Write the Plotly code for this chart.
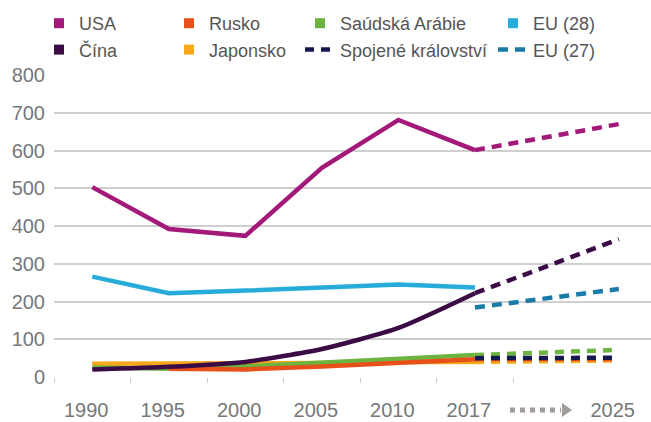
import plotly.graph_objects as go

# ---------------- data ----------------
years = ["1990", "1995", "2000", "2005", "2010", "2017"]
proj_years = ["2017", "2025"]
tick_labels = ["1990", "1995", "2000", "2005", "2010", "2017", "2025"]

usa = [503, 392, 374, 554, 681, 601]
usa_proj = [601, 670]
cina = [20, 27, 40, 74, 130, 222]
cina_proj = [222, 365]
rusko = [None, 22, 20, 28, 38, 47]
rusko_proj = [47, 48]
japonsko = [35, 36, 35, 37, 40, 40]
japonsko_proj = [40, 44]
saudska = [25, 22, 28, 37, 47, 58]
saudska_proj = [58, 72]
eu28 = [266, 222, 229, 237, 245, 237]
uk_proj = [50, 51]
eu27_proj = [184, 233]

# axis positions for categories (projection year sits closer, as in the original)
cat_pos = {"1990": 0, "1995": 1, "2000": 2, "2005": 3, "2010": 4, "2017": 5, "2025": 6.88}

colors = {
    "USA": "#A3197A",
    "Čína": "#3B0B45",
    "Rusko": "#E8501A",
    "Japonsko": "#F7A81B",
    "Saúdská Arábie": "#6DB33F",
    "EU (28)": "#27ACD9",
    "Spojené království": "#16194F",
    "EU (27)": "#1A7BA8",
}

W, H = 651, 422
L, R, T, B = 54, 0, 75, 45
PW, PH = W - L - R, H - T - B

def px2x(px):
    return (px - L) / PW

def px2y(py):
    return ((H - B) - py) / PH

fig = go.Figure()

def xs(labels):
    return [cat_pos[v] for v in labels]

LW = 4.5

def solid(name, vals, legend, shape="linear"):
    fig.add_trace(go.Scatter(x=xs(years), y=vals, mode="lines", name=name,
                             line=dict(color=colors[name], width=LW, shape=shape, smoothing=0.6),
                             showlegend=False, connectgaps=False, hoverinfo="skip"))
    # legend entry shown as a square
    fig.add_trace(go.Scatter(x=[None], y=[None], mode="markers", name=name,
                             marker=dict(symbol="square", size=10, color=colors[name]),
                             legend=legend, showlegend=True))

def dashed(name, vals, legend=None, dash="10px,7px"):
    fig.add_trace(go.Scatter(x=xs(proj_years), y=vals, mode="lines", name=name,
                             line=dict(color=colors[name], width=LW, dash=dash),
                             showlegend=legend is not None,
                             legend=legend if legend else "legend",
                             hoverinfo="skip"))

# drawing order (bottom to top)
dashed("Japonsko", japonsko_proj, dash="9px,7px")
dashed("Rusko", rusko_proj, dash="9px,7px")
dashed("Saúdská Arábie", saudska_proj, dash="9px,7px")
dashed("Spojené království", uk_proj, legend="legend3", dash="9px,7px")
solid("Japonsko", japonsko, "legend2")
solid("Saúdská Arábie", saudska, "legend3")
solid("Rusko", rusko, "legend2")
dashed("EU (27)", eu27_proj, legend="legend4")
dashed("Čína", cina_proj)
solid("Čína", cina, "legend", shape="spline")
solid("EU (28)", eu28, "legend4")
dashed("USA", usa_proj)
solid("USA", usa, "legend")

# order the legend entries: first row / second row per column
order = {"USA": 1, "Čína": 2, "Rusko": 1, "Japonsko": 2, "Saúdská Arábie": 1,
         "Spojené království": 2, "EU (28)": 1, "EU (27)": 2}
for tr in fig.data:
    if tr.showlegend:
        tr.legendrank = order[tr.name]

legend_font = dict(family="Liberation Sans", size=18, color="#555555")
def leg(xpx):
    return dict(x=px2x(xpx), xref="paper", xanchor="left",
                y=px2y(5), yref="paper", yanchor="top",
                orientation="v", font=legend_font, bgcolor="rgba(0,0,0,0)",
                borderwidth=0, tracegroupgap=0, itemclick=False, itemdoubleclick=False)

fig.update_layout(
    width=W, height=H,
    margin=dict(l=L, r=R, t=T, b=B, autoexpand=False),
    paper_bgcolor="white", plot_bgcolor="white",
    font=dict(family="Liberation Sans", color="#777777"),
    legend=leg(39), legend2=leg(169), legend3=leg(300), legend4=leg(493),
    showlegend=True,
    hovermode=False,
)

LABEL_SHIFT = -0.08  # labels sit slightly left of the data points in the original
fig.update_xaxes(
    type="linear",
    range=[-0.5, 7.3], autorange=False,
    tickmode="array", tickvals=[p + LABEL_SHIFT for p in xs(tick_labels)], ticktext=tick_labels,
    ticks="", showgrid=False, zeroline=False, showline=False,
    tickfont=dict(size=20, color="#777777"),
    ticklabelstandoff=19,
    minor=dict(tickmode="array", tickvals=[-0.5, 0.5, 1.5, 2.5, 3.5, 4.5, 5.5], ticks="outside",
               ticklen=5, tickcolor="#c8c8c8", tickwidth=1, showgrid=False),
    fixedrange=True,
)
fig.update_yaxes(
    type="linear",
    range=[0, 800], autorange=False,
    tickmode="array", tickvals=[0, 100, 200, 300, 400, 500, 600, 700, 800],
    showgrid=True, gridcolor="#cfcfcf", gridwidth=1.5,
    zeroline=True, zerolinecolor="white", zerolinewidth=2,
    showline=False, ticks="",
    tickfont=dict(size=20, color="#777777"),
    ticklabelstandoff=8,
    fixedrange=True,
)

# dotted arrow between 2017 and 2025 labels
ya = px2y(410)
fig.add_shape(type="line", xref="paper", yref="paper",
              x0=px2x(510), x1=px2x(561), y0=ya, y1=ya,
              line=dict(color="#a39a9a", width=5, dash="5px,5px"))
fig.add_shape(type="path", xref="paper", yref="paper",
              path=f"M {px2x(562)} {ya + 7/PH} L {px2x(572)} {ya} L {px2x(562)} {ya - 7/PH} Z",
              fillcolor="#a39a9a", line=dict(width=0))

fig.write_html("out.html", config={"displayModeBar": False},
               post_script="document.body.style.margin='0';")
